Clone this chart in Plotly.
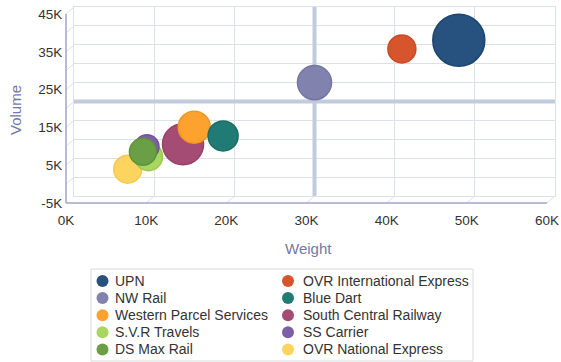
import plotly.graph_objects as go

# ---------------- data ----------------
names = ["UPN", "OVR International Express", "NW Rail", "Blue Dart",
         "Western Parcel Services", "South Central Railway", "S.V.R Travels",
         "SS Carrier", "DS Max Rail", "OVR National Express"]
weight = [48000, 40900, 30000, 18600, 15000, 13600, 9300, 9100, 8600, 6700]
volume = [36200, 33900, 25000, 10900, 13200, 8700, 5400, 8000, 6700, 2100]
bubble_size = [2700, 780, 1160, 900, 1020, 1680, 780, 580, 730, 780]

x_ticks = [0, 10000, 20000, 30000, 40000, 50000, 60000]
x_tick_labels = ["0K", "10K", "20K", "30K", "40K", "50K", "60K"]
y_ticks = [-5000, 5000, 15000, 25000, 35000, 45000]
y_tick_labels = ["-5K", "5K", "15K", "25K", "35K", "45K"]
y_minor_ticks = [0, 10000, 20000, 30000, 40000]

# ---------------- styles ----------------
colors = ["#27527f", "#d6552d", "#8183ae", "#1f7b73", "#fda22f",
          "#a54c75", "#a8d65e", "#7d5fa8", "#6a9f45", "#fdd45e"]
edge_colors = ["#1c4670", "#c94b25", "#7476a3", "#1a6e66", "#f39522",
               "#984369", "#9cc953", "#71539c", "#5e933b", "#f5c94f"]
draw_order = [0, 5, 2, 4, 3, 1, 9, 6, 7, 8]

W, H = 561, 362
L, R, T, B = 74, 555, 7, 196      # back plane in px
DX, DY = -8, 7                    # front-plane offset (3D depth)
GRID = "#dbe1e7"
FRONT = "#a2a4c6"
QUAD = "#c2cadb"
FONT = "Liberation Sans, Arial, Helvetica, sans-serif"


def px(x):
    return x / W


def py(y):
    return (H - y) / H


fig = go.Figure()

max_d = 52
sizeref = 2 * max(bubble_size) / max_d ** 2
for i in draw_order:
    fig.add_trace(go.Scatter(
        x=[weight[i]], y=[volume[i]], mode="markers", name=names[i],
        marker=dict(size=[bubble_size[i]], sizemode="area", sizeref=sizeref,
                    color=colors[i], opacity=1,
                    line=dict(color=edge_colors[i], width=1.5)),
        showlegend=False,
        hovertemplate=names[i] + "<br>Weight: %{x}<br>Volume: %{y}<extra></extra>",
    ))

# ---------------- custom legend ----------------
col_marker_x = [102.5, 288]
col_text_x = [113, 300.5]
row_y0, row_step = 281, 17.1
leg_x = [col_marker_x[i % 2] for i in range(len(names))]
leg_y = [row_y0 + row_step * (i // 2) for i in range(len(names))]
fig.add_trace(go.Scatter(
    x=leg_x, y=leg_y, mode="markers", xaxis="x2", yaxis="y2",
    marker=dict(size=12, color=colors, line=dict(width=0)),
    showlegend=False, hoverinfo="skip",
))
annotations = []
for i, n in enumerate(names):
    annotations.append(dict(
        text=n, x=px(col_text_x[i % 2]), y=py(leg_y[i]), xref="paper", yref="paper",
        xanchor="left", yanchor="middle", showarrow=False,
        font=dict(family=FONT, size=14, color="#333333")))

# axis titles
annotations.append(dict(text="Volume", x=px(15), y=py(110), xref="paper", yref="paper",
                        textangle=-90, showarrow=False, xanchor="center", yanchor="middle",
                        font=dict(family=FONT, size=15, color="#7478a6")))
annotations.append(dict(text="Weight", x=px(308), y=py(248), xref="paper", yref="paper",
                        showarrow=False, xanchor="center", yanchor="middle",
                        font=dict(family=FONT, size=15, color="#7478a6")))

# ---------------- shapes ----------------
shapes = []
x_mid = (x_ticks[0] + x_ticks[-1]) / 2
y_mid = (y_ticks[0] + y_ticks[-1]) / 2
# left wall diagonals
for v in y_ticks + y_minor_ticks:
    shapes.append(dict(type="line", xref="paper", x0=px(L), x1=px(L + DX),
                       yref="y", ysizemode="pixel", yanchor=v, y0=0, y1=-DY,
                       line=dict(color=GRID, width=1), layer="below"))
# floor diagonals
for v in x_ticks:
    shapes.append(dict(type="line", yref="paper", y0=py(B), y1=py(B + DY),
                       xref="x", xsizemode="pixel", xanchor=v, x0=0, x1=DX,
                       line=dict(color=GRID, width=1), layer="below"))
# quadrant lines
shapes.append(dict(type="line", xref="x", yref="y", x0=x_mid, x1=x_mid,
                   y0=y_ticks[0], y1=y_ticks[-1], line=dict(color=QUAD, width=4),
                   layer="between"))
shapes.append(dict(type="line", xref="x", yref="y", x0=x_ticks[0], x1=x_ticks[-1],
                   y0=y_mid, y1=y_mid, line=dict(color=QUAD, width=4),
                   layer="between"))
# front axis lines
shapes.append(dict(type="line", xref="paper", yref="paper",
                   x0=px(L + DX), x1=px(L + DX), y0=py(T + DY), y1=py(B + DY),
                   line=dict(color=FRONT, width=1.5)))
shapes.append(dict(type="line", xref="paper", yref="paper",
                   x0=px(L + DX), x1=px(R + DX), y0=py(B + DY), y1=py(B + DY),
                   line=dict(color=FRONT, width=1.5)))
# legend box
shapes.append(dict(type="rect", xref="paper", yref="paper",
                   x0=px(91), x1=px(473), y0=py(269), y1=py(361),
                   line=dict(color="#d9dddd", width=1), fillcolor="rgba(0,0,0,0)"))

fig.update_layout(
    width=W, height=H,
    margin=dict(l=0, r=0, t=0, b=0, autoexpand=False),
    paper_bgcolor="white", plot_bgcolor="rgba(0,0,0,0)",
    font=dict(family=FONT),
    showlegend=False,
    annotations=annotations,
    shapes=shapes,
    xaxis=dict(domain=[px(L), px(R)], range=[x_ticks[0], x_ticks[-1]],
               tickmode="array", tickvals=x_ticks, ticktext=x_tick_labels,
               showgrid=True, gridcolor=GRID, gridwidth=1, zeroline=False,
               showline=True, linecolor=GRID, linewidth=1, mirror=True, ticks="",
               tickfont=dict(family=FONT, size=13.5, color="#333333"),
               ticklabelshift=DX, ticklabelstandoff=12, fixedrange=True,
               automargin=False),
    yaxis=dict(domain=[py(B), py(T)], range=[y_ticks[0], y_ticks[-1]],
               tickmode="array", tickvals=y_ticks, ticktext=y_tick_labels,
               minor=dict(tickmode="array", tickvals=y_minor_ticks, showgrid=True,
                          gridcolor=GRID, gridwidth=1),
               showgrid=True, gridcolor=GRID, gridwidth=1, zeroline=False,
               showline=True, linecolor=GRID, linewidth=1, mirror=True, ticks="",
               tickfont=dict(family=FONT, size=13.5, color="#333333"),
               ticklabelshift=DY, ticklabelstandoff=8, fixedrange=True,
               automargin=False),
    xaxis2=dict(domain=[0, 1], range=[0, W], visible=False, anchor="y2",
                fixedrange=True, automargin=False),
    yaxis2=dict(domain=[0, 1], range=[H, 0], visible=False, anchor="x2",
                fixedrange=True, automargin=False),
)

# remove the default page margin so the figure sits at the window origin
fig.write_html("out.html", config={"displayModeBar": False},
               post_script="document.body.style.margin='0px';")
